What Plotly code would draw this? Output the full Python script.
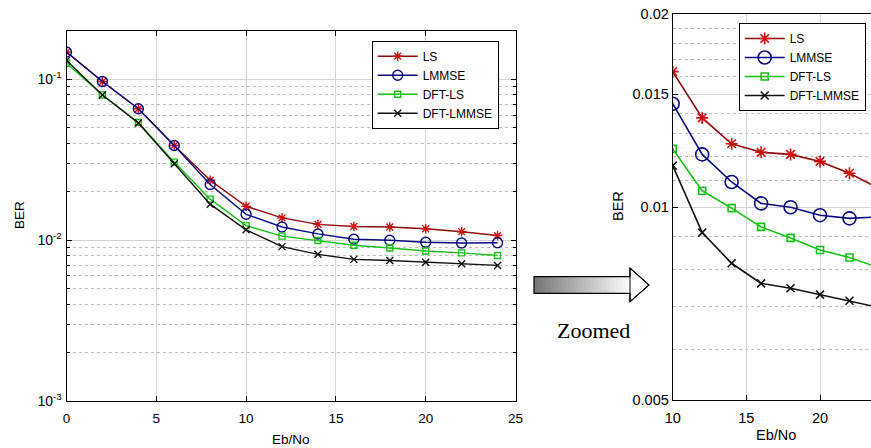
import plotly.graph_objects as go

# ---------------- data ----------------
ebno = [0, 2, 4, 6, 8, 10, 12, 14, 16, 18, 20, 22, 24]
ber_ls = [0.148, 0.097, 0.0657, 0.0388, 0.0236, 0.01626, 0.01377, 0.01255, 0.01217, 0.01208, 0.01178, 0.01129, 0.01069]
ber_lmmse = [0.148, 0.097, 0.0657, 0.0388, 0.0222, 0.01449, 0.01208, 0.01094, 0.01013, 0.00999, 0.00971, 0.0096, 0.00965]
ber_dft_ls = [0.126, 0.080, 0.0540, 0.0306, 0.0180, 0.01232, 0.0106, 0.00996, 0.00931, 0.00895, 0.00857, 0.00834, 0.00804]
ber_dft_lmmse = [0.131, 0.080, 0.0536, 0.0299, 0.01675, 0.0116, 0.00912, 0.00817, 0.0076, 0.00747, 0.0073, 0.00714, 0.00697]

series_names = ["LS", "LMMSE", "DFT-LS", "DFT-LMMSE"]
series_values = [ber_ls, ber_lmmse, ber_dft_ls, ber_dft_lmmse]

left_y_ticks = [1e-3, 1e-2, 1e-1]
left_y_ticktext = ["10<sup>-3</sup>", "10<sup>-2</sup>", "10<sup>-1</sup>"]
left_y_minor = [2e-3, 3e-3, 4e-3, 5e-3, 6e-3, 7e-3, 8e-3, 9e-3,
                2e-2, 3e-2, 4e-2, 5e-2, 6e-2, 7e-2, 8e-2, 9e-2]
right_y_ticks = [0.005, 0.01, 0.015, 0.02]
right_y_ticktext = ["0.005", "0.01", "0.015", "0.02"]
right_y_minor = [0.006, 0.007, 0.008, 0.009, 0.011, 0.012, 0.013, 0.014,
                 0.016, 0.017, 0.018, 0.019]

# ---------------- styles ----------------
W, H = 871, 448
line_colors = ["#8b0a0a", "#0a0a80", "#16c216", "#111111"]
marker_colors = ["#d01010", "#0a0a80", "#16c216", "#111111"]
symbols = ["asterisk-open", "circle-open", "square-open", "x-thin-open"]
left_sizes = [8, 10, 6, 7]
right_sizes = [10, 13, 7, 8]

FONT = "Liberation Sans, Arial, sans-serif"


def px(x):
    return x / W


def py(y):
    return 1 - y / H


fig = go.Figure()

for i, (name, vals) in enumerate(zip(series_names, series_values)):
    fig.add_trace(go.Scatter(
        x=ebno, y=vals, name=name, mode="lines+markers",
        line=dict(color=line_colors[i], width=1.4),
        marker=dict(symbol=symbols[i], size=left_sizes[i], color=marker_colors[i],
                    line=dict(color=marker_colors[i], width=1.4)),
        xaxis="x", yaxis="y", legend="legend",
    ))
for i, (name, vals) in enumerate(zip(series_names, series_values)):
    fig.add_trace(go.Scatter(
        x=ebno, y=vals, name=name, mode="lines+markers",
        line=dict(color=line_colors[i], width=1.6),
        marker=dict(symbol=symbols[i], size=right_sizes[i], color=marker_colors[i],
                    line=dict(color=marker_colors[i], width=1.6)),
        xaxis="x2", yaxis="y2", legend="legend2",
    ))

grid_major = "#d4d4d4"
grid_minor = "#bdbdbd"

common_axis = dict(showline=True, linecolor="black", linewidth=1,
                   ticks="inside", ticklen=5, tickcolor="black",
                   showgrid=True, gridcolor=grid_major, gridwidth=1,
                   zeroline=False)

fig.update_layout(
    width=W, height=H, autosize=False,
    margin=dict(l=0, r=0, t=0, b=0),
    paper_bgcolor="white", plot_bgcolor="white",
    font=dict(family=FONT, color="black", size=13),
    xaxis=dict(domain=[px(66.5), px(515.5)], range=[0, 25], dtick=5, tick0=0,
               mirror="allticks", anchor="y", automargin=False,
               ticklabelstandoff=5,
               tickfont=dict(size=13.5), **common_axis),
    yaxis=dict(domain=[py(401), py(31)], type="log", range=[-3, -0.699],
               tickmode="array", tickvals=left_y_ticks, ticktext=left_y_ticktext,
               mirror="allticks", anchor="x", automargin=False,
               ticklabelstandoff=1,
               tickfont=dict(size=14),
               minor=dict(tickmode="array", tickvals=left_y_minor, ticks="inside",
                          ticklen=3, tickcolor="black", showgrid=True,
                          gridcolor=grid_minor, griddash="dot", gridwidth=1),
               **common_axis),
    xaxis2=dict(domain=[px(672.7), 1.0], range=[10, 23.46], dtick=5, tick0=0,
                mirror=True, anchor="y2", automargin=False,
                ticklabelstandoff=5,
                tickfont=dict(size=14.5), **common_axis),
    yaxis2=dict(domain=[py(400), py(14)], type="log",
                range=[-2.30103, -1.69897],
                tickmode="array", tickvals=right_y_ticks, ticktext=right_y_ticktext,
                anchor="x2", automargin=False, mirror=False,
                tickfont=dict(size=14.5),
                minor=dict(tickmode="array", tickvals=right_y_minor, ticks="",
                           showgrid=True, gridcolor=grid_minor, griddash="dot",
                           gridwidth=1),
                **common_axis),
    legend=dict(x=px(371.7), y=py(40.7), xanchor="left", yanchor="top",
                bgcolor="white", bordercolor="black", borderwidth=1,
                font=dict(family=FONT, size=12), tracegroupgap=0,
                itemwidth=40),
    legend2=dict(x=px(738.7), y=py(23), xanchor="left", yanchor="top",
                 bgcolor="white", bordercolor="black", borderwidth=1,
                 font=dict(family=FONT, size=12), tracegroupgap=0,
                 itemwidth=40),
    showlegend=True,
)

# axis titles as annotations
annotations = [
    dict(text="BER", x=px(19), y=py(215), textangle=-90, font=dict(size=13.5)),
    dict(text="Eb/No", x=px(291), y=py(439), font=dict(size=13.5)),
    dict(text="BER", x=px(618), y=py(206), textangle=-90, font=dict(size=14.5)),
    dict(text="Eb/No", x=px(776), y=py(435), font=dict(size=14.5)),
    dict(text="Zoomed", x=px(593), y=py(330),
         font=dict(family="Liberation Serif, Times New Roman, serif", size=22)),
]
for a in annotations:
    a.update(xref="paper", yref="paper", showarrow=False,
             xanchor="center", yanchor="middle")
fig.update_layout(annotations=annotations)

# gradient arrow between panels
shapes = []
x0, x1 = 534.0, 630.0
yb0, yb1 = 276.7, 293.3
n = 24
for k in range(n):
    t = k / (n - 1)
    g = int(120 + (250 - 120) * t)
    xa = x0 + (x1 - x0) * k / n
    xb = x0 + (x1 - x0) * (k + 1) / n + 0.6
    shapes.append(dict(type="rect", xref="paper", yref="paper",
                       x0=px(xa), x1=px(xb), y0=py(yb1), y1=py(yb0),
                       fillcolor=f"rgb({g},{g},{g})", line=dict(width=0), layer="above"))
head = (f"M {px(630)},{py(268)} L {px(649)},{py(285)} L {px(630)},{py(301.7)} Z")
shapes.append(dict(type="path", xref="paper", yref="paper", path=head,
                   fillcolor="white", line=dict(color="black", width=1), layer="above"))
outline = (f"M {px(534)},{py(276.7)} L {px(630)},{py(276.7)} L {px(630)},{py(268)} "
           f"L {px(649)},{py(285)} L {px(630)},{py(301.7)} L {px(630)},{py(293.3)} "
           f"L {px(534)},{py(293.3)} Z")
shapes.append(dict(type="path", xref="paper", yref="paper", path=outline,
                   fillcolor="rgba(0,0,0,0)", line=dict(color="black", width=1.2),
                   layer="above"))
fig.update_layout(shapes=shapes)

fig.write_html("out.html",
               config={"displayModeBar": False},
               post_script="document.body.style.margin='0';document.body.style.overflow='hidden';")
